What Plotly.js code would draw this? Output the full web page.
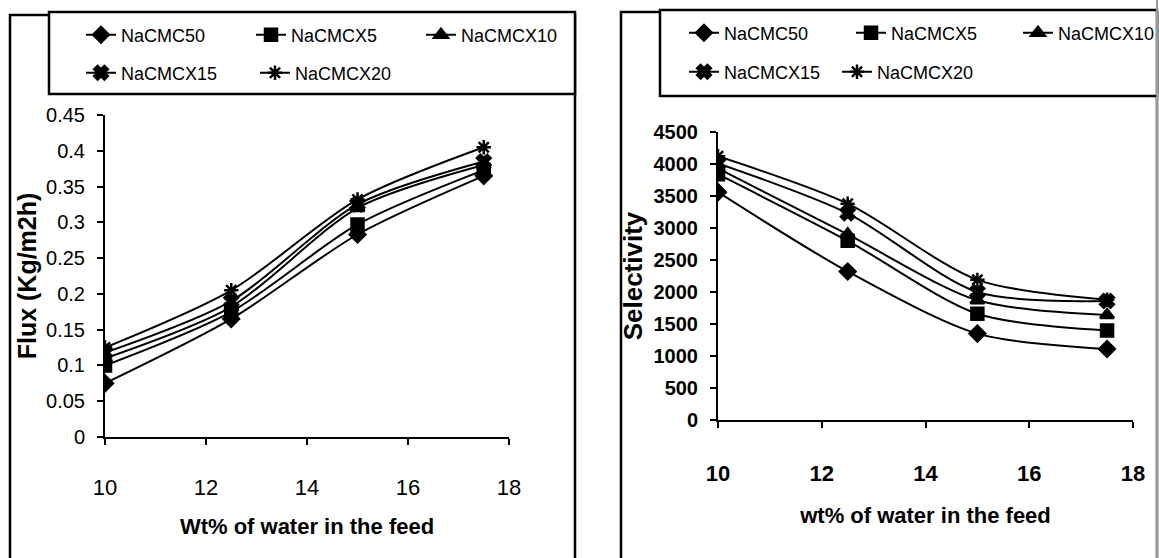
<!DOCTYPE html>
<html><head><meta charset="utf-8">
<script src="https://cdn.plot.ly/plotly-3.0.1.min.js"></script>
<style>html,body{margin:0;padding:0;background:#fff}#chart{width:1159px;height:558px}</style>
</head><body><div id="chart"></div>
<script>
// ---- data ----
const waterWt = [10, 12.5, 15, 17.5];
const seriesNames = ['NaCMC50', 'NaCMCX5', 'NaCMCX10', 'NaCMCX15', 'NaCMCX20'];
const fluxNaCMC50  = [0.075, 0.165, 0.283, 0.365];
const fluxNaCMCX5  = [0.100, 0.175, 0.297, 0.373];
const fluxNaCMCX10 = [0.110, 0.182, 0.320, 0.380];
const fluxNaCMCX15 = [0.118, 0.190, 0.325, 0.385];
const fluxNaCMCX20 = [0.125, 0.205, 0.332, 0.405];
const selNaCMC50   = [3560, 2320, 1350, 1110];
const selNaCMCX5   = [3840, 2800, 1660, 1400];
const selNaCMCX10  = [3930, 2900, 1870, 1640];
const selNaCMCX15  = [4010, 3230, 2000, 1860];
const selNaCMCX20  = [4120, 3380, 2190, 1880];
const xTickVals = [10, 12, 14, 16, 18];
const fluxTickVals = [0, 0.05, 0.1, 0.15, 0.2, 0.25, 0.3, 0.35, 0.4, 0.45];
const selTickVals = [0, 500, 1000, 1500, 2000, 2500, 3000, 3500, 4000, 4500];
const leftXTitle = 'Wt% of water in the feed';
const rightXTitle = 'wt% of water in the feed';
const leftYTitle = 'Flux (Kg/m2h)';
const rightYTitle = 'Selectivity';

// ---- styling / layout ----
const W = 1159, H = 558;
const px = v => v / W, py = v => 1 - v / H;
const fluxSeries = [fluxNaCMC50, fluxNaCMCX5, fluxNaCMCX10, fluxNaCMCX15, fluxNaCMCX20];
const selSeries = [selNaCMC50, selNaCMCX5, selNaCMCX10, selNaCMCX15, selNaCMCX20];
const symbols = ['diamond', 'square', 'triangle-up', 'x', 'asterisk-open'];
const leftLegend = ['legend', 'legend', 'legend', 'legend2', 'legend2'];
const rightLegend = ['legend3', 'legend3', 'legend3', 'legend4', 'legend4'];
const SANS = 'Liberation Sans, Arial, sans-serif';

const traces = [];
seriesNames.forEach((n, i) => {
  const mk = {symbol: symbols[i], size: 12, color: '#000', line: {color: '#000', width: 2.5}};
  traces.push({x: waterWt, y: fluxSeries[i], name: n, type: 'scatter', mode: 'lines+markers',
    xaxis: 'x', yaxis: 'y', legend: leftLegend[i],
    line: {color: '#000', width: 2, shape: 'spline', smoothing: 0.8}, marker: mk});
});
seriesNames.forEach((n, i) => {
  const mk = {symbol: symbols[i], size: 12, color: '#000', line: {color: '#000', width: 2.5}};
  traces.push({x: waterWt, y: selSeries[i], name: n, type: 'scatter', mode: 'lines+markers',
    xaxis: 'x2', yaxis: 'y2', legend: rightLegend[i],
    line: {color: '#000', width: 2, shape: 'spline', smoothing: 0.8}, marker: mk});
});

function legendAt(textStartX, rowY, ew) {
  return {orientation: 'h', x: px(textStartX - 40), xanchor: 'left', y: py(rowY), yanchor: 'middle',
    bgcolor: 'rgba(0,0,0,0)', borderwidth: 0, entrywidth: ew, entrywidthmode: 'pixels',
    font: {family: SANS, size: 18, color: '#000'}};
}

const axisCommon = {showgrid: false, zeroline: false, showline: true, linecolor: '#000', linewidth: 2,
  ticks: 'outside', ticklen: 6, tickwidth: 2, tickcolor: '#000', fixedrange: true};

const layout = {
  width: W, height: H,
  margin: {l: 0, r: 0, t: 0, b: 0, autoexpand: false},
  paper_bgcolor: '#fff', plot_bgcolor: '#fff',
  showlegend: true,
  xaxis: Object.assign({}, axisCommon, {domain: [px(105), px(509)], range: [10, 18], tickvals: xTickVals,
    anchor: 'y', ticklabelstandoff: 24,
    tickfont: {family: SANS, size: 22, color: '#000'},
    title: {text: leftXTitle, standoff: 19, font: {family: SANS, size: 22, color: '#000', weight: 'bold'}}}),
  yaxis: Object.assign({}, axisCommon, {domain: [py(437), py(115)], range: [0, 0.45], tickvals: fluxTickVals,
    anchor: 'x', ticklabelstandoff: 8,
    tickfont: {family: SANS, size: 20, color: '#000'},
    title: {text: leftYTitle, standoff: 2, font: {family: SANS, size: 25, color: '#000', weight: 'bold'}}}),
  xaxis2: Object.assign({}, axisCommon, {domain: [px(718), px(1133)], range: [10, 18], tickvals: xTickVals,
    anchor: 'y2', ticklabelstandoff: 27,
    tickfont: {family: SANS, size: 22, color: '#000', weight: 'bold'},
    title: {text: rightXTitle, standoff: 22, font: {family: SANS, size: 22, color: '#000', weight: 'bold'}}}),
  yaxis2: Object.assign({}, axisCommon, {domain: [py(420), py(132)], range: [0, 4500], tickvals: selTickVals,
    anchor: 'x2', ticklabelstandoff: 8,
    tickfont: {family: SANS, size: 20, color: '#000', weight: 'bold'},
    title: {text: rightYTitle, standoff: 3, font: {family: SANS, size: 26, color: '#000', weight: 'bold'}}}),
  legend: legendAt(121, 35, 125),
  legend2: legendAt(121, 73, 129),
  legend3: legendAt(724, 33, 122),
  legend4: legendAt(724, 72, 108),
  shapes: [
    {type: 'rect', xref: 'paper', yref: 'paper', x0: px(10), x1: px(575), y0: py(15), y1: py(562),
      line: {color: '#000', width: 2.5}, fillcolor: 'rgba(0,0,0,0)', layer: 'below'},
    {type: 'rect', xref: 'paper', yref: 'paper', x0: px(49), x1: px(575), y0: py(12), y1: py(94),
      line: {color: '#000', width: 2.5}, fillcolor: '#fff', layer: 'below'},
    {type: 'rect', xref: 'paper', yref: 'paper', x0: px(621), x1: px(1157), y0: py(12), y1: py(562),
      line: {color: '#000', width: 2.5}, fillcolor: 'rgba(0,0,0,0)', layer: 'below'},
    {type: 'rect', xref: 'paper', yref: 'paper', x0: px(660), x1: px(1157), y0: py(10), y1: py(96),
      line: {color: '#000', width: 2.5}, fillcolor: '#fff', layer: 'below'},
    {type: 'line', xref: 'paper', yref: 'paper', x0: px(1157), x1: px(1157), y0: py(0), y1: py(558),
      line: {color: '#999', width: 2}, layer: 'below'}
  ]
};

Plotly.newPlot('chart', traces, layout, {displayModeBar: false, staticPlot: true});
</script>
</body></html>
